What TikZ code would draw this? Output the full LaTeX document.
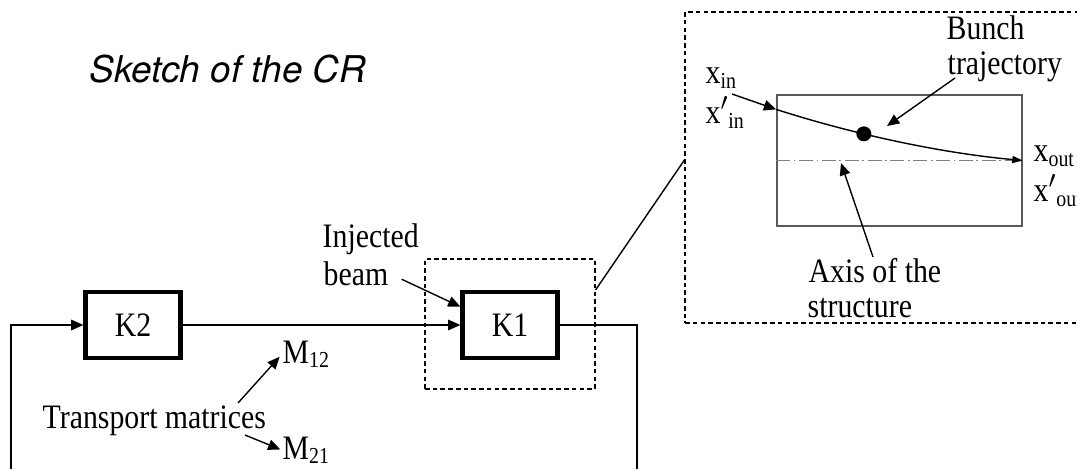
\documentclass[tikz,border=0pt]{standalone}
\usepackage{fontspec}
\setmainfont{Liberation Serif}[FakeStretch=0.87]
\newfontfamily\heros{TeX Gyre Heros}
\usetikzlibrary{arrows.meta,calc}
\newcommand\lowsub[1]{\raisebox{-0.3ex}{\fontsize{13}{13}\selectfont #1}}

\begin{document}
\begin{tikzpicture}[x=0.02cm, y=-0.02cm, line width=0.8pt,
    lbl/.style={font=\fontsize{19.5}{23}\selectfont, inner sep=0pt},
    kicker/.style={lbl, draw, line width=2.4pt, minimum width=1.9cm, minimum height=1.32cm},
    zoombox/.style={draw, line width=0.7pt, dash pattern=on 2.6pt off 1.8pt},
    arr/.style={-{Triangle[length=7pt, width=6pt]}}]
    \clip (0,0) rectangle (1077,469);

    % Title
    \node[anchor=base west, inner sep=0pt, font=\heros\itshape\fontsize{21}{25}\selectfont] (title) at (89,83) {Sketch of the CR};

    % Kickers and the ring
    \node[kicker] (K2) at (133,325) {K2};
    \node[kicker] (K1) at (510,325) {K1};
    \coordinate (loopR) at (637,325);
    \coordinate (loopRB) at (637,480);
    \coordinate (loopL) at (11,325);
    \coordinate (loopLB) at (11,480);
    \draw[arr] (K2.east) -- (K1.west);
    \draw (K1.east) -- (loopR) -- (loopRB);
    \draw[arr] (loopLB) -- (loopL) -- (K2.west);

    % Injected beam
    \node[lbl, anchor=base west] (inj) at (322,248) {Injected};
    \node[lbl, anchor=base west] (beam) at (323,285) {beam};
    \draw[arr, shorten <=8pt] (beam.east) -- ($(K1.north west)!0.24!(K1.south west)$);

    % Transport matrices
    \node[lbl, anchor=base west] (tm) at (42,428) {Transport matrices};
    \node[lbl, anchor=base west] (M12) at (282,363) {M\lowsub{12}};
    \node[lbl, anchor=base west] (M21) at (282,459) {M\lowsub{21}};
    \coordinate (tmA) at (238,403);
    \coordinate (tmB) at (245,435);
    \draw[arr, shorten >=2pt] (tmA) -- (M12.west);
    \draw[arr, shorten >=1pt] (tmB) -- (M21.west);

    % Zoomed view of K1
    \node[zoombox, minimum width=3.4cm, minimum height=2.6cm] (zsmall) at (510,324) {};
    \node[zoombox, minimum width=8.1cm, minimum height=6.22cm] (zbig) at (887.5,167.5) {};
    \draw ($(zsmall.north east)!0.24!(zsmall.south east)$) -- ($(zbig.north west)!0.476!(zbig.south west)$);

    % Structure, axis and trajectory
    \node[draw=gray!70!black, line width=1pt, minimum width=4.9cm, minimum height=2.62cm, inner sep=0pt] (cav) at (899.5,160.5) {};
    \draw[gray, line width=0.5pt, dash pattern=on 8pt off 2pt on 1pt off 2pt] (cav.west) -- (cav.east);
    \coordinate (tin) at ($(cav.north west)!0.115!(cav.south west)$);
    \draw[-{Triangle[length=6pt, width=4pt]}] (tin) .. controls (840,130) and (930,152) .. (cav.east)
        node[pos=0.4, circle, fill, minimum size=0.3cm, inner sep=0pt] (bunch) {};

    % Labels in the zoomed view
    \node[lbl, anchor=base west] (xin) at (705,84) {x\lowsub{in}};
    \node[lbl, anchor=base west] (xpin) at (705,124) {x$'$\lowsub{in}};
    \node[lbl, anchor=base west] (xout) at (1033,162) {x\lowsub{out}};
    \node[lbl, anchor=base west] (xpout) at (1033,202) {x$'$\lowsub{out}};
    \coordinate (xinA) at (732,94);
    \draw[arr] (xinA) -- (tin);

    \node[lbl, anchor=base west] (bunchA) at (946,40) {Bunch};
    \node[lbl, anchor=base west] (bunchB) at (947,75) {trajectory};
    \coordinate (bunchS) at (955,78);
    \coordinate (bunchT) at (887,126);
    \draw[arr] (bunchS) -- (bunchT);

    \node[lbl, anchor=base west] (axA) at (808,282) {Axis of the};
    \node[lbl, anchor=base west] (axB) at (807,317) {structure};
    \coordinate (axS) at (873,257);
    \coordinate (axT) at (841,163);
    \draw[arr] (axS) -- (axT);
\end{tikzpicture}
\end{document}
